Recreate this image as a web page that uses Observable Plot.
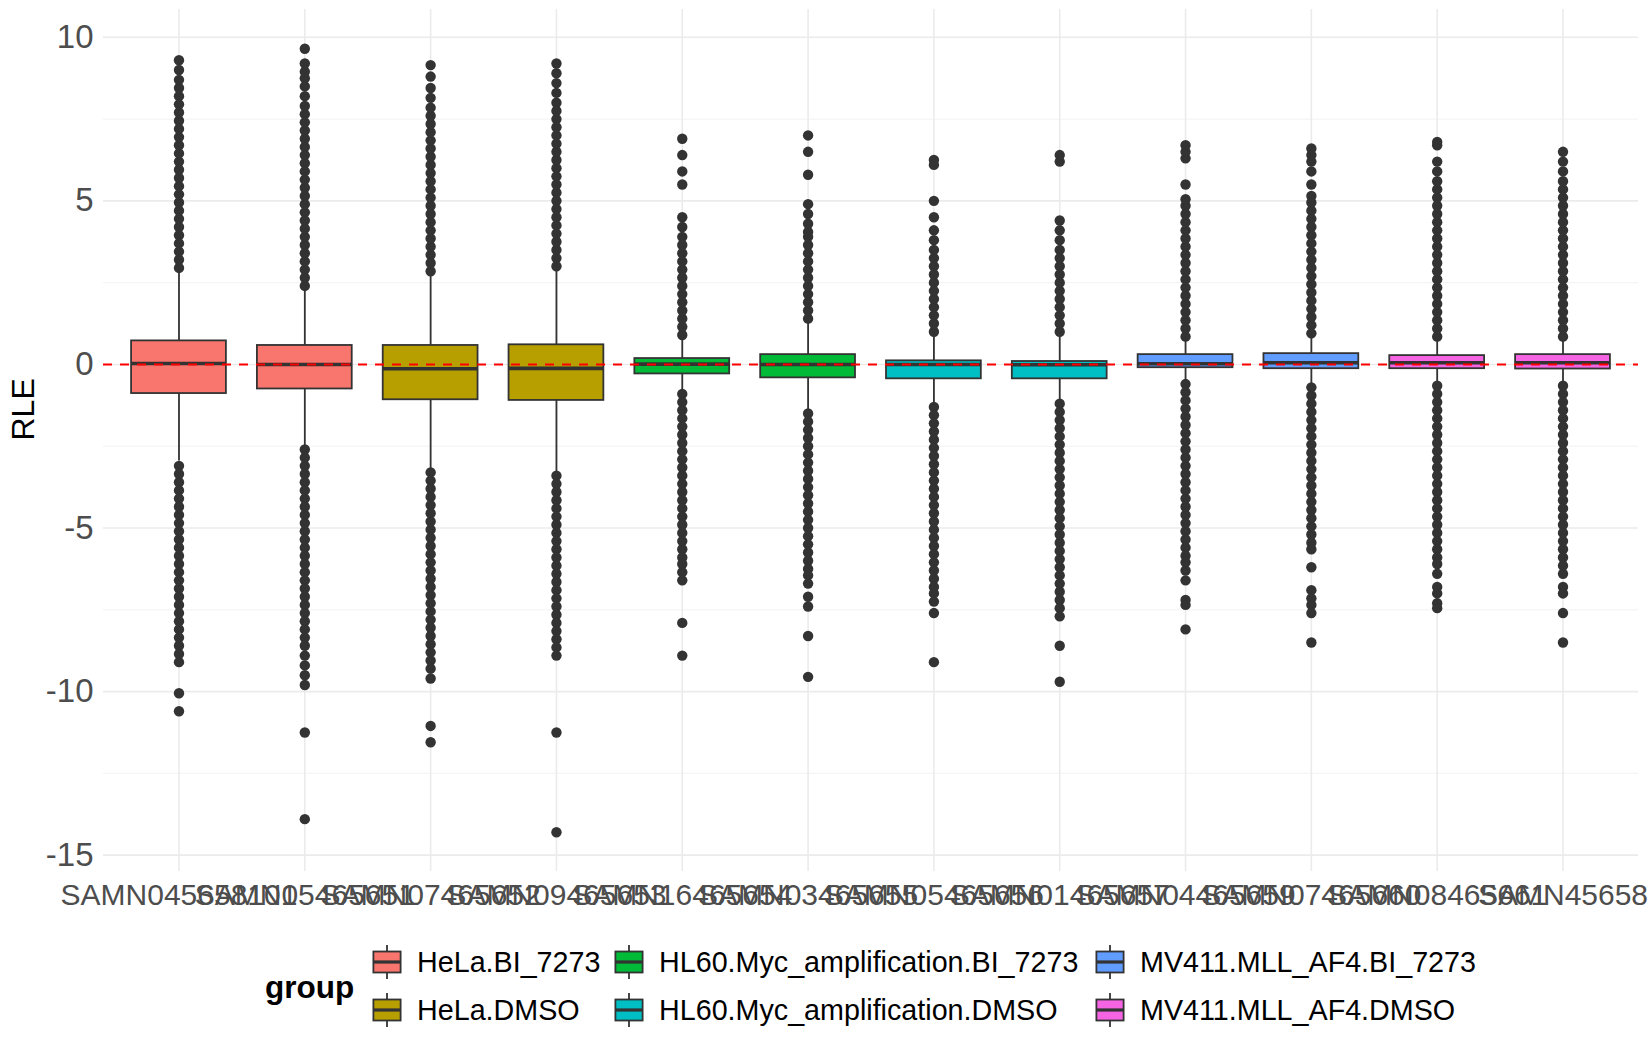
<!DOCTYPE html>
<html><head><meta charset="utf-8">
<script src="https://cdn.jsdelivr.net/npm/d3@7"></script>
<script src="https://cdn.jsdelivr.net/npm/@observablehq/plot@0.6"></script>
<style>
html,body{margin:0;padding:0;background:#fff;overflow:hidden;}
#wrap{position:relative;width:1650px;height:1050px;font-family:"Liberation Sans",Arial,sans-serif;}
#chart svg{overflow:visible;display:block}
.lg{position:absolute;display:flex;align-items:center;font-size:28.7px;color:#000;white-space:nowrap;height:42px}
.lg svg{display:block;margin-right:13px}
#gtitle{position:absolute;font-weight:bold;font-size:31.5px;color:#000;white-space:nowrap}
</style></head><body><div id="wrap"><div id="chart"></div><div id="legend"></div></div>
<script>
const samples = ["SAMN045658101","SAMN05465651","SAMN07465652","SAMN09465653","SAMN16465654","SAMN03465655","SAMN05465656","SAMN01465657","SAMN04465659","SAMN07465660","SAMN08465661","SAMN45658"];
const groups = ["HeLa.BI_7273","HeLa.BI_7273","HeLa.DMSO","HeLa.DMSO","HL60.Myc_amplification.BI_7273","HL60.Myc_amplification.BI_7273","HL60.Myc_amplification.DMSO","HL60.Myc_amplification.DMSO","MV411.MLL_AF4.BI_7273","MV411.MLL_AF4.BI_7273","MV411.MLL_AF4.DMSO","MV411.MLL_AF4.DMSO"];
const groupNames = ["HeLa.BI_7273","HeLa.DMSO","HL60.Myc_amplification.BI_7273","HL60.Myc_amplification.DMSO","MV411.MLL_AF4.BI_7273","MV411.MLL_AF4.DMSO"];
const groupColors = ["#F8766D","#B79F00","#00BA38","#00BFC4","#619CFF","#F564E3"];

const q1 = [-0.89,-0.75,-1.08,-1.10,-0.29,-0.41,-0.44,-0.44,-0.10,-0.13,-0.13,-0.14];
const med = [0.03,0.0,-0.13,-0.12,0.01,0.0,0.0,-0.01,0.02,0.05,0.05,0.05];
const q3 = [0.72,0.58,0.58,0.60,0.18,0.30,0.11,0.09,0.30,0.33,0.27,0.30];
const whiskerLo = [-2.95,-2.5,-3.2,-3.3,-0.85,-1.4,-1.2,-1.12,-0.55,-0.62,-0.58,-0.58];
const whiskerHi = [2.85,2.3,2.75,2.9,0.85,1.3,0.95,0.9,0.78,0.88,0.78,0.8];

const upperOutliers = [
 [2.95,3.2,3.45,3.7,3.95,4.2,4.45,4.7,4.95,5.2,5.45,5.7,5.95,6.2,6.45,6.7,6.95,7.2,7.45,7.7,7.95,8.2,8.45,8.7,9.0,9.3],
 [2.4,2.65,2.9,3.15,3.4,3.65,3.9,4.15,4.4,4.65,4.9,5.15,5.4,5.65,5.9,6.15,6.4,6.65,6.9,7.15,7.4,7.65,7.9,8.2,8.5,8.75,8.95,9.2,9.65],
 [2.85,3.1,3.35,3.6,3.85,4.1,4.35,4.6,4.85,5.1,5.35,5.6,5.85,6.1,6.35,6.6,6.85,7.1,7.35,7.6,7.85,8.15,8.45,8.8,9.15],
 [3.0,3.25,3.5,3.75,4.0,4.25,4.5,4.75,5.0,5.25,5.5,5.75,6.0,6.25,6.5,6.75,7.0,7.25,7.5,7.75,8.0,8.3,8.6,8.9,9.2],
 [0.9,1.15,1.4,1.65,1.9,2.15,2.4,2.65,2.9,3.15,3.4,3.65,3.9,4.2,4.5,5.5,5.9,6.4,6.9],
 [1.4,1.65,1.9,2.15,2.4,2.65,2.9,3.15,3.4,3.65,3.9,4.05,4.3,4.6,4.9,5.8,6.5,7.0],
 [1.0,1.25,1.5,1.75,2.0,2.25,2.5,2.75,3.0,3.25,3.5,3.8,4.1,4.5,5.0,6.1,6.25],
 [1.0,1.25,1.5,1.75,2.0,2.25,2.5,2.75,3.0,3.25,3.5,3.8,4.1,4.4,6.2,6.4],
 [0.85,1.1,1.35,1.6,1.85,2.1,2.35,2.6,2.85,3.1,3.35,3.6,3.85,4.1,4.35,4.6,4.85,5.05,5.5,6.3,6.5,6.7],
 [0.95,1.2,1.45,1.7,1.95,2.2,2.45,2.7,2.95,3.2,3.45,3.7,3.95,4.2,4.45,4.7,4.95,5.15,5.5,5.9,6.2,6.4,6.6],
 [0.85,1.1,1.35,1.6,1.85,2.1,2.35,2.6,2.85,3.1,3.35,3.6,3.85,4.1,4.35,4.6,4.85,5.1,5.35,5.6,5.9,6.2,6.7,6.8],
 [0.85,1.1,1.35,1.6,1.85,2.1,2.35,2.6,2.85,3.1,3.35,3.6,3.85,4.1,4.35,4.6,4.85,5.1,5.35,5.6,5.9,6.2,6.5]
];
const lowerOutliers = [
 [-3.1,-3.35,-3.6,-3.85,-4.1,-4.35,-4.6,-4.85,-5.1,-5.35,-5.6,-5.85,-6.1,-6.35,-6.6,-6.85,-7.1,-7.35,-7.6,-7.85,-8.1,-8.35,-8.6,-8.85,-9.1,-10.05,-10.6],
 [-2.6,-2.85,-3.1,-3.35,-3.6,-3.85,-4.1,-4.35,-4.6,-4.85,-5.1,-5.35,-5.6,-5.85,-6.1,-6.35,-6.6,-6.85,-7.1,-7.35,-7.6,-7.85,-8.1,-8.35,-8.6,-8.9,-9.2,-9.5,-9.8,-11.25,-13.9],
 [-3.3,-3.55,-3.8,-4.05,-4.3,-4.55,-4.8,-5.05,-5.3,-5.55,-5.8,-6.05,-6.3,-6.55,-6.8,-7.05,-7.3,-7.55,-7.8,-8.05,-8.3,-8.55,-8.8,-9.05,-9.3,-9.6,-11.05,-11.55],
 [-3.4,-3.65,-3.9,-4.15,-4.4,-4.65,-4.9,-5.15,-5.4,-5.65,-5.9,-6.15,-6.4,-6.65,-6.9,-7.15,-7.4,-7.65,-7.9,-8.15,-8.4,-8.65,-8.9,-11.25,-14.3],
 [-0.9,-1.15,-1.4,-1.65,-1.9,-2.15,-2.4,-2.65,-2.9,-3.15,-3.4,-3.65,-3.9,-4.15,-4.4,-4.65,-4.9,-5.15,-5.4,-5.65,-5.9,-6.1,-6.35,-6.6,-7.9,-8.9],
 [-1.5,-1.75,-2.0,-2.25,-2.5,-2.75,-3.0,-3.25,-3.5,-3.75,-4.0,-4.25,-4.5,-4.75,-5.0,-5.25,-5.5,-5.75,-6.0,-6.25,-6.45,-6.7,-7.1,-7.4,-8.3,-9.55],
 [-1.3,-1.55,-1.8,-2.05,-2.3,-2.55,-2.8,-3.05,-3.3,-3.55,-3.8,-4.05,-4.3,-4.55,-4.8,-5.05,-5.3,-5.55,-5.8,-6.05,-6.3,-6.55,-6.8,-7.0,-7.25,-7.6,-9.1],
 [-1.2,-1.45,-1.7,-1.95,-2.2,-2.45,-2.7,-2.95,-3.2,-3.45,-3.7,-3.95,-4.2,-4.45,-4.7,-4.95,-5.2,-5.45,-5.7,-5.95,-6.2,-6.45,-6.7,-6.95,-7.2,-7.45,-7.7,-8.6,-9.7],
 [-0.6,-0.85,-1.1,-1.35,-1.6,-1.85,-2.1,-2.35,-2.6,-2.85,-3.1,-3.35,-3.6,-3.85,-4.1,-4.35,-4.6,-4.85,-5.1,-5.35,-5.6,-5.85,-6.05,-6.3,-6.6,-7.2,-7.35,-8.1],
 [-0.7,-0.95,-1.2,-1.45,-1.7,-1.95,-2.2,-2.45,-2.7,-2.95,-3.2,-3.45,-3.7,-3.95,-4.2,-4.45,-4.7,-4.95,-5.2,-5.45,-5.65,-6.2,-6.9,-7.15,-7.35,-7.6,-8.5],
 [-0.65,-0.9,-1.15,-1.4,-1.65,-1.9,-2.15,-2.4,-2.65,-2.9,-3.15,-3.4,-3.65,-3.9,-4.15,-4.4,-4.65,-4.9,-5.15,-5.4,-5.65,-5.9,-6.1,-6.4,-6.8,-7.0,-7.3,-7.45],
 [-0.65,-0.9,-1.15,-1.4,-1.65,-1.9,-2.15,-2.4,-2.65,-2.9,-3.15,-3.4,-3.65,-3.9,-4.15,-4.4,-4.65,-4.9,-5.15,-5.4,-5.65,-5.9,-6.15,-6.4,-6.8,-7.0,-7.6,-8.5]
];

const yTicks = [-15,-10,-5,0,5,10];
const yMinor = [-12.5,-7.5,-2.5,2.5,7.5];

const rows = samples.map((s,i)=>({sample:s, group:groups[i], q1:q1[i], med:med[i], q3:q3[i], lo:whiskerLo[i], hi:whiskerHi[i]}));
const pts = [];
samples.forEach((s,i)=>{
  upperOutliers[i].forEach(v=>pts.push({sample:s, value:v}));
  lowerOutliers[i].forEach(v=>pts.push({sample:s, value:v}));
});

const inset = 15.5;
const chart = Plot.plot({
  width:1650, height:930,
  marginTop:9, marginBottom:59, marginLeft:103, marginRight:12,
  style:{fontFamily:"Liberation Sans, Arial, sans-serif", background:"#fff", overflow:"visible"},
  x:{type:"band", domain:samples, paddingInner:0, paddingOuter:0.1, round:false},
  y:{domain:[-15.5,10.85]},
  color:{type:"ordinal", domain:groupNames, range:groupColors},
  marks:[
    Plot.gridY(yMinor,{stroke:"#F0F0F0", strokeOpacity:1, strokeWidth:0.9}),
    Plot.gridY(yTicks,{stroke:"#EBEBEB", strokeOpacity:1, strokeWidth:1.6}),
    Plot.gridX(samples,{stroke:"#EBEBEB", strokeOpacity:1, strokeWidth:1.6}),
    Plot.ruleX(rows,{x:"sample", y1:"lo", y2:"hi", stroke:"#333333", strokeWidth:1.8}),
    Plot.barY(rows,{x:"sample", y1:"q1", y2:"q3", fill:"group", stroke:"#333333", strokeWidth:1.8, insetLeft:inset, insetRight:inset}),
    Plot.tickY(rows,{x:"sample", y:"med", stroke:"#333333", strokeWidth:3.6, insetLeft:inset, insetRight:inset}),
    Plot.dot(pts,{x:"sample", y:"value", r:5.2, fill:"#333333", stroke:null}),
    Plot.ruleY([0],{stroke:"red", strokeWidth:2, strokeDasharray:"9,8"}),
    Plot.axisX({tickSize:0, tickPadding:12, fontSize:30, fill:"#4D4D4D", label:null}),
    Plot.axisY(yTicks,{tickSize:0, tickPadding:10, fontSize:33, fill:"#4D4D4D", label:null, tickFormat:d=>String(d)}),
    Plot.text(["RLE"],{frameAnchor:"left", dx:-80, rotate:-90, text:d=>d, fontSize:32, fill:"#000"})
  ]
});
document.getElementById("chart").appendChild(chart);

// legend (HTML, below the SVG)
const legend = document.getElementById("legend");
const gt = document.createElement("div");
gt.id = "gtitle"; gt.textContent = "group";
gt.style.left = "265px"; gt.style.top = (987-18)+"px";
legend.appendChild(gt);
const colX = [370, 612, 1093];
const rowY = [962, 1010];
groupNames.forEach((g,i)=>{
  const c = Math.floor(i/2), r = i%2;
  const d = document.createElement("div");
  d.className = "lg";
  d.style.left = colX[c]+"px";
  d.style.top = (rowY[r]-21)+"px";
  d.innerHTML = `<svg width="34" height="42"><line x1="17" x2="17" y1="4" y2="38" stroke="#333" stroke-width="1.8"/><rect x="3.4" y="10.5" width="27.2" height="21" fill="${groupColors[i]}" stroke="#333" stroke-width="1.8"/><line x1="3.4" x2="30.6" y1="21" y2="21" stroke="#333" stroke-width="3.2"/></svg><span>${g}</span>`;
  legend.appendChild(d);
});
</script>
</body></html>
